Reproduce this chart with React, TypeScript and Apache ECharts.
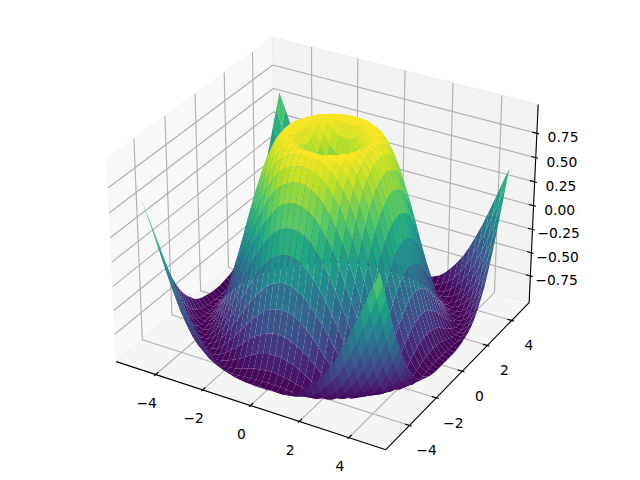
import React, { useEffect, useRef } from "react";
import * as echarts from "echarts";

// Grid positions of the surface
const gridValues = [-5, -4.75, -4.5, -4.25, -4, -3.75, -3.5, -3.25, -3, -2.75, -2.5, -2.25, -2, -1.75, -1.5, -1.25, -1, -0.75, -0.5, -0.25, 0, 0.25, 0.5, 0.75, 1, 1.25, 1.5, 1.75, 2, 2.25, 2.5, 2.75, 3, 3.25, 3.5, 3.75, 4, 4.25, 4.5, 4.75];

// Heights for one octant of the symmetric surface: row = larger |step| from centre, column = smaller |step|
const heightRows = [
  [0],
  [0.25, 0.35],
  [0.48, 0.53, 0.65],
  [0.68, 0.71, 0.78, 0.87],
  [0.84, 0.86, 0.9, 0.95, 0.99],
  [0.95, 0.96, 0.97, 0.99, 1, 0.98],
  [1, 1, 1, 0.99, 0.97, 0.93, 0.85],
  [0.98, 0.98, 0.97, 0.94, 0.9, 0.84, 0.74, 0.62],
  [0.91, 0.9, 0.88, 0.84, 0.79, 0.7, 0.6, 0.46, 0.31],
  [0.78, 0.77, 0.74, 0.7, 0.63, 0.54, 0.42, 0.29, 0.13, -0.04],
  [0.6, 0.59, 0.56, 0.51, 0.43, 0.34, 0.22, 0.09, -0.06, -0.22, -0.38],
  [0.38, 0.37, 0.34, 0.29, 0.21, 0.12, 0.01, -0.12, -0.26, -0.4, -0.54, -0.68],
  [0.14, 0.13, 0.1, 0.05, -0.02, -0.11, -0.21, -0.33, -0.45, -0.57, -0.69, -0.8, -0.89],
  [-0.11, -0.12, -0.15, -0.19, -0.26, -0.33, -0.42, -0.52, -0.62, -0.72, -0.82, -0.9, -0.96, -0.99],
  [-0.35, -0.36, -0.38, -0.42, -0.48, -0.54, -0.62, -0.7, -0.78, -0.85, -0.92, -0.97, -0.99, -1, -0.97],
  [-0.57, -0.58, -0.6, -0.63, -0.67, -0.72, -0.78, -0.84, -0.89, -0.94, -0.98, -1, -1, -0.97, -0.91, -0.83],
  [-0.76, -0.76, -0.78, -0.8, -0.83, -0.87, -0.91, -0.94, -0.97, -0.99, -1, -0.99, -0.96, -0.91, -0.83, -0.72, -0.59],
  [-0.89, -0.9, -0.91, -0.92, -0.94, -0.96, -0.98, -0.99, -1, -1, -0.98, -0.94, -0.88, -0.8, -0.7, -0.58, -0.43, -0.27],
  [-0.98, -0.98, -0.98, -0.99, -0.99, -1, -1, -0.99, -0.98, -0.95, -0.91, -0.85, -0.77, -0.67, -0.55, -0.41, -0.26, -0.09, 0.08],
  [-1, -1, -1, -1, -0.99, -0.98, -0.96, -0.94, -0.91, -0.86, -0.79, -0.71, -0.62, -0.5, -0.37, -0.23, -0.07, 0.09, 0.26, 0.42],
  [-0.96, -0.96, -0.95, -0.94, -0.93, -0.91, -0.88, -0.83, -0.78, -0.72, -0.64, -0.55, -0.44, -0.32, -0.18, -0.03, 0.12, 0.28, 0.43, 0.58, 0.71],
];

const xTicks = [-4, -2, 0, 2, 4];
const xTickLabels = ["\u22124", "\u22122", "0", "2", "4"];
const yTicks = [-4, -2, 0, 2, 4];
const yTickLabels = ["\u22124", "\u22122", "0", "2", "4"];
const zTicks = [-0.75, -0.5, -0.25, 0, 0.25, 0.5, 0.75];
const zTickLabels = ["\u22120.75", "\u22120.50", "\u22120.25", "0.00", "0.25", "0.50", "0.75"];

const viridis = ["#440154", "#482475", "#414487", "#355f8d", "#2a788e", "#21918c", "#22a884", "#44bf70", "#7ad151", "#bddf26", "#fde725"];

// ---- view (elevation 30, azimuth -60, box 4:4:3) ----
const xLo = -5.4875;
const xHi = 5.2375;
const zLo = -1;
const zHi = 1;
const boxScale = 1.8294640721620434 / Math.sqrt(41);
const box = [4 * boxScale, 4 * boxScale, 3 * boxScale];
const elev = (30 * Math.PI) / 180;
const azim = (-60 * Math.PI) / 180;
const dist = 10;
const centre = [box[0] / 2, box[1] / 2, box[2] / 2];
const eye = [
  centre[0] + dist * Math.cos(elev) * Math.cos(azim),
  centre[1] + dist * Math.cos(elev) * Math.sin(azim),
  centre[2] + dist * Math.sin(elev),
];
const norm3 = (a: number[]) => {
  const l = Math.hypot(a[0], a[1], a[2]);
  return [a[0] / l, a[1] / l, a[2] / l];
};
const cross = (a: number[], b: number[]) => [
  a[1] * b[2] - a[2] * b[1],
  a[2] * b[0] - a[0] * b[2],
  a[0] * b[1] - a[1] * b[0],
];
const dot = (a: number[], b: number[]) => a[0] * b[0] + a[1] * b[1] + a[2] * b[2];
const w = norm3([eye[0] - centre[0], eye[1] - centre[1], eye[2] - centre[2]]);
const u = norm3(cross([0, 0, 1], w));
const v = cross(w, u);

const camera = (x: number, y: number, z: number) => {
  const p = [
    ((x - xLo) / (xHi - xLo)) * box[0] - eye[0],
    ((y - xLo) / (xHi - xLo)) * box[1] - eye[1],
    ((z - zLo) / (zHi - zLo)) * box[2] - eye[2],
  ];
  return [dot(p, u), dot(p, v), -dot(p, w)];
};
const axSize = 480;
const axLeft = 80;
const axBottom = 0;
const viewLo = -0.95 / dist;
const viewHi = 0.9 / dist;
const project = (x: number, y: number, z: number): [number, number] => {
  const c = camera(x, y, z);
  const sx = c[0] / c[2];
  const sy = c[1] / c[2];
  return [
    axLeft + ((sx - viewLo) / (viewHi - viewLo)) * axSize,
    480 - (axBottom + ((sy - viewLo) / (viewHi - viewLo)) * axSize),
  ];
};

// ---- surface cells, back to front ----
const heightAt = (i: number, j: number) => {
  const a = Math.abs(gridValues[i]) * 4;
  const b = Math.abs(gridValues[j]) * 4;
  return heightRows[Math.max(a, b)][Math.min(a, b)];
};
const buildCells = () => {
  const cells: { depth: number; value: number[] }[] = [];
  for (let i = 0; i + 1 < gridValues.length; i++) {
    for (let j = 0; j + 1 < gridValues.length; j++) {
      const x0 = gridValues[i];
      const x1 = gridValues[i + 1];
      const y0 = gridValues[j];
      const y1 = gridValues[j + 1];
      const z = [heightAt(i, j), heightAt(i + 1, j), heightAt(i + 1, j + 1), heightAt(i, j + 1)];
      const depth =
        (camera(x0, y0, z[0])[2] + camera(x1, y0, z[1])[2] + camera(x1, y1, z[2])[2] + camera(x0, y1, z[3])[2]) / 4;
      cells.push({ depth, value: [x0, x1, y0, y1, z[0], z[1], z[2], z[3]] });
    }
  }
  cells.sort((a, b) => b.depth - a.depth);
  return cells.map((c) => c.value);
};

// ---- frame: the box extends 1/48 of the range beyond the limits ----
const padXY = (xHi - xLo) / 48;
const padZ = (zHi - zLo) / 48;
const bx0 = xLo - padXY;
const bx1 = xHi + padXY;
const bz0 = zLo - padZ;
const bz1 = zHi + padZ;
const deltaXY = (bx1 - bx0) / 12;

const panes = [
  { color: "rgba(242,242,242,0.5)", corners: [[bx0, bx0, bz0], [bx0, bx1, bz0], [bx0, bx1, bz1], [bx0, bx0, bz1]] },
  { color: "rgba(230,230,230,0.5)", corners: [[bx0, bx1, bz0], [bx1, bx1, bz0], [bx1, bx1, bz1], [bx0, bx1, bz1]] },
  { color: "rgba(236,236,236,0.5)", corners: [[bx0, bx0, bz0], [bx1, bx0, bz0], [bx1, bx1, bz0], [bx0, bx1, bz0]] },
];

const gridSegs: number[][] = [];
xTicks.forEach((t) => {
  gridSegs.push([t, bx0, bz0, t, bx1, bz0], [t, bx1, bz0, t, bx1, bz1]);
});
yTicks.forEach((t) => {
  gridSegs.push([bx1, t, bz0, bx0, t, bz0], [bx0, t, bz0, bx0, t, bz1]);
});
zTicks.forEach((t) => {
  gridSegs.push([bx0, bx0, t, bx0, bx1, t], [bx0, bx1, t, bx1, bx1, t]);
});

const axisSegs: number[][] = [
  [bx0, bx0, bz0, bx1, bx0, bz0],
  [bx1, bx0, bz0, bx1, bx1, bz0],
  [bx1, bx1, bz0, bx1, bx1, bz1],
];
xTicks.forEach((t) => {
  axisSegs.push([t, bx0 - 0.1 * deltaXY, bz0, t, bx0 + 0.2 * deltaXY, bz0]);
});
yTicks.forEach((t) => {
  axisSegs.push([bx1 + 0.1 * deltaXY, t, bz0, bx1 - 0.2 * deltaXY, t, bz0]);
});
zTicks.forEach((t) => {
  axisSegs.push([bx1 + 0.1 * deltaXY, bx1, t, bx1 - 0.2 * deltaXY, bx1, t]);
});

const tickTexts = [
  ...xTicks.map((t, i) => ({ text: xTickLabels[i], at: [t, bx0, bz0], dx: -9, dy: 28.2 })),
  ...yTicks.map((t, i) => ({ text: yTickLabels[i], at: [bx1, t, bz0], dx: 17, dy: 25 })),
  ...zTicks.map((t, i) => ({ text: zTickLabels[i], at: [bx1, bx1, t], dx: 26.2, dy: 4 })),
];

const segmentSeries = (segs: number[][], color: string, width: number) => ({
  type: "custom",
  coordinateSystem: "none",
  silent: true,
  clip: false,
  progressive: 0,
  data: segs,
  renderItem: (_p: any, api: any) => {
    const a = project(api.value(0), api.value(1), api.value(2));
    const b = project(api.value(3), api.value(4), api.value(5));
    return {
      type: "line",
      shape: { x1: a[0], y1: a[1], x2: b[0], y2: b[1] },
      style: { stroke: color, lineWidth: width, fill: null },
    };
  },
});

export default function App() {
  const ref = useRef<HTMLDivElement>(null);
  useEffect(() => {
    if (!ref.current) return;
    const chart = echarts.init(ref.current, undefined, { renderer: "svg" });
    const cells = buildCells();
    chart.setOption({
      animation: false,
      backgroundColor: "#ffffff",
      series: [
        {
          type: "custom",
          coordinateSystem: "none",
          silent: true,
          progressive: 0,
          data: panes.map((p) => p.corners.flat()),
          renderItem: (params: any, api: any) => {
            const pts = [0, 3, 6, 9].map((k) => project(api.value(k), api.value(k + 1), api.value(k + 2)));
            const color = panes[params.dataIndex].color;
            return { type: "polygon", shape: { points: pts }, style: { fill: color, stroke: color, lineWidth: 1 } };
          },
        },
        segmentSeries(gridSegs, "#b0b0b0", 1.11),
        segmentSeries(axisSegs, "#000000", 1.11),
        {
          type: "custom",
          coordinateSystem: "none",
          silent: true,
          progressive: 0,
          data: tickTexts.map((t) => t.at),
          renderItem: (params: any, api: any) => {
            const p = project(api.value(0), api.value(1), api.value(2));
            const t = tickTexts[params.dataIndex];
            return {
              type: "text",
              x: p[0] + t.dx,
              y: p[1] + t.dy,
              style: {
                text: t.text,
                fontFamily: "DejaVu Sans",
                fontSize: 13.89,
                fill: "#000000",
                align: "center",
                verticalAlign: "middle",
              },
            };
          },
        },
        {
          type: "custom",
          coordinateSystem: "none",
          silent: true,
          progressive: 0,
          data: cells,
          renderItem: (_p: any, api: any) => {
            const x0 = api.value(0);
            const x1 = api.value(1);
            const y0 = api.value(2);
            const y1 = api.value(3);
            const z = [api.value(4), api.value(5), api.value(6), api.value(7)];
            const t = ((z[0] + z[1] + z[2] + z[3]) / 4 - zLo) / (zHi - zLo);
            return {
              type: "polygon",
              shape: {
                points: [project(x0, y0, z[0]), project(x1, y0, z[1]), project(x1, y1, z[2]), project(x0, y1, z[3])],
              },
              style: { fill: echarts.color.lerp(t, viridis), stroke: null },
            };
          },
        },
      ],
    });
    return () => chart.dispose();
  }, []);
  return <div ref={ref} style={{ position: "absolute", left: 0, top: 0, width: 640, height: 480 }} />;
}
